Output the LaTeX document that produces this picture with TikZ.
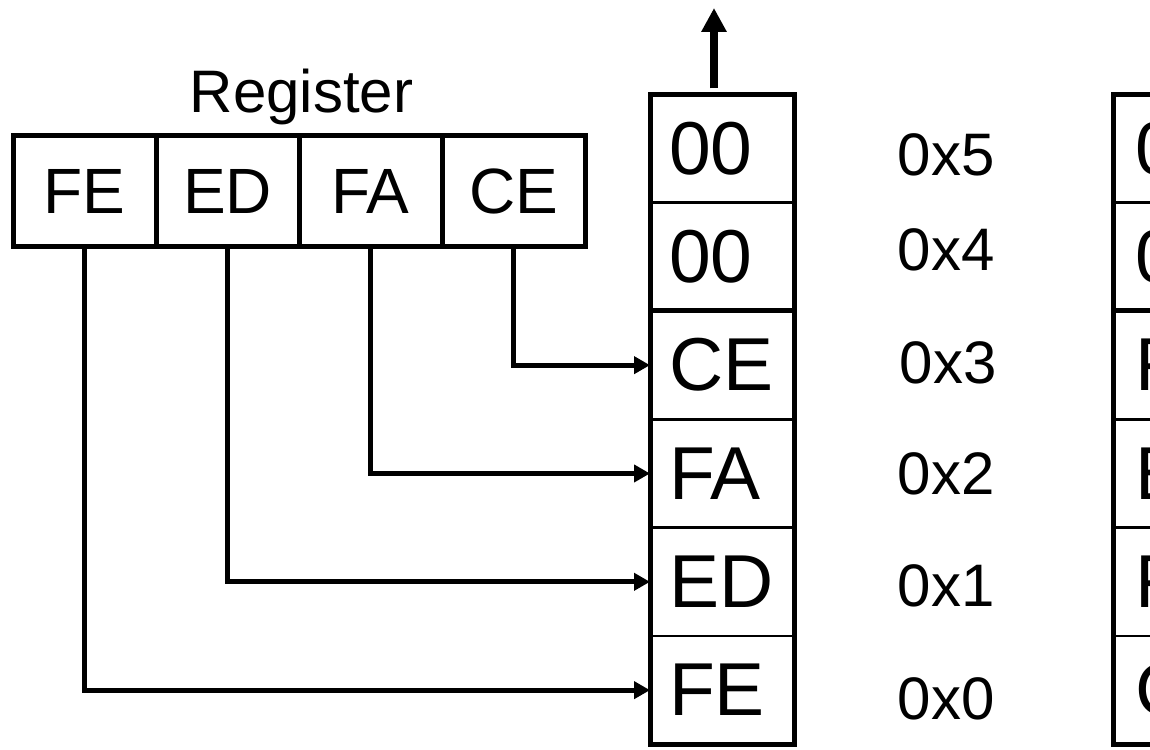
\documentclass[tikz,border=0pt]{standalone}
\usepackage{fontspec}
\setmainfont{Liberation Sans}
\usetikzlibrary{positioning,arrows.meta}

\begin{document}
\begin{tikzpicture}[
    x=1pt, y=1pt,
    node distance=143pt,
    regcell/.style={draw, line width=5pt, minimum width=143pt, minimum height=111pt, inner sep=0pt, font=\fontsize{64}{70}\selectfont},
    memcell/.style={draw, line width=2.5pt, outer sep=0pt, minimum height=108.33pt, text width=106pt, align=left, inner xsep=19pt, inner ysep=0pt, font=\fontsize{75}{80}\selectfont},
    rcell/.style={memcell, inner xsep=22pt, text width=100pt},
    addr/.style={inner sep=0pt, font=\fontsize{60}{66}\selectfont},
    conn/.style={line width=5pt, -{Triangle[length=16pt, width=17pt]}},
    border/.style={line width=5pt}
]
\useasboundingbox (0,0) rectangle (1150,749);
\clip (0,0) rectangle (1150,749);

% register
\node[regcell] (fe) at (84.5,557.5) {FE};
\node[regcell, right of=fe] (ed) {ED};
\node[regcell, right of=ed] (fa) {FA};
\node[regcell, right of=fa] (ce) {CE};
\node[addr, above=8pt of ed.north east] (reg) {Register};

% memory, little endian
\node[memcell] (m5) at (722,600.5) {00};
\node[memcell, below=0pt of m5] (m4) {00};
\node[memcell, below=0pt of m4] (m3) {CE};
\node[memcell, below=0pt of m3] (m2) {FA};
\node[memcell, below=0pt of m2] (m1) {ED};
\node[memcell, below=0pt of m1] (m0) {FE};
\draw[border] (m5.north west) rectangle (m0.south east);
\draw[border] (m3.north west) -- (m3.north east);

% addresses
\node[addr, right of=m5, node distance=224pt, yshift=-6.5pt] (a5) {0x5};
\node[addr, right of=m4, node distance=224pt, yshift=7pt] (a4) {0x4};
\node[addr, right of=m3, node distance=226pt, yshift=2pt] (a3) {0x3};
\node[addr, right of=m2, node distance=224pt] (a2) {0x2};
\node[addr, right of=m1, node distance=224pt, yshift=-4pt] (a1) {0x1};
\node[addr, right of=m0, node distance=224pt, yshift=-9pt] (a0) {0x0};

% memory, big endian
\node[rcell, right of=m5, node distance=463pt] (r5) {00};
\node[rcell, below=0pt of r5] (r4) {00};
\node[rcell, below=0pt of r4] (r3) {FE};
\node[rcell, below=0pt of r3] (r2) {ED};
\node[rcell, below=0pt of r2] (r1) {FA};
\node[rcell, below=0pt of r1] (r0) {CE};
\draw[border] (r5.north west) rectangle (r0.south east);
\draw[border] (r3.north west) -- (r3.north east);

\draw[conn] (ce.south) |- (m3.west);
\draw[conn] (fa.south) |- (m2.west);
\draw[conn] (ed.south) |- (m1.west);
\draw[conn] (fe.south) |- (m0.west);

\coordinate (out) at (714,741);
\draw[line width=8pt, -{Triangle[length=24pt, width=24pt]}] ([xshift=-8pt, yshift=6pt]m5.north) -- (out);

\end{tikzpicture}
\end{document}
